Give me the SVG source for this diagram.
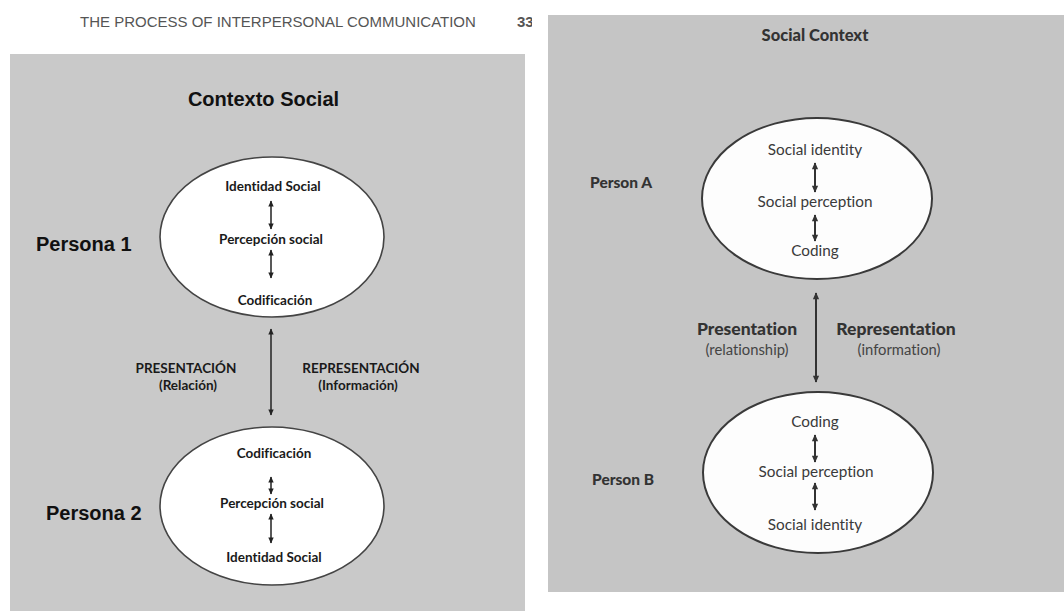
<svg xmlns="http://www.w3.org/2000/svg" width="1064" height="611" viewBox="0 0 1064 611">
<style>
text{font-variant-ligatures:none}
.hdr{font-family:"Liberation Sans",Arial,sans-serif;font-size:15px;fill:#555}
.ltitle{font-family:"Liberation Sans",Arial,sans-serif;font-weight:bold;font-size:20px;fill:#111}
.lperson{font-family:"Liberation Sans",Arial,sans-serif;font-weight:bold;font-size:20px;fill:#111}
.lin{font-family:Lato,"Open Sans",sans-serif;font-weight:bold;font-size:13.5px;fill:#1a1a1a;text-anchor:middle}
.rtitle{font-family:Lato,"Noto Sans",sans-serif;font-weight:900;font-size:16.5px;fill:#333;text-anchor:middle}
.rperson{font-family:Lato,"Noto Sans",sans-serif;font-weight:900;font-size:15.5px;fill:#333}
.rlab{font-family:Lato,"Noto Sans",sans-serif;font-weight:900;font-size:17.5px;fill:#333;text-anchor:middle}
.rsub{font-family:Lato,"Noto Sans",sans-serif;font-size:14.8px;fill:#444;text-anchor:middle}
.rin{font-family:Lato,"Noto Sans",sans-serif;font-size:15.3px;fill:#3a3a3a;text-anchor:middle}
.lell{fill:#fff;stroke:#444;stroke-width:1.6}
.rell{fill:#fdfdfd;stroke:#3a3a3a;stroke-width:2}
.arr{stroke:#222;stroke-width:1.5;fill:none;marker-start:url(#ah);marker-end:url(#ah)}
.arrR{stroke:#333;stroke-width:2;fill:none;marker-start:url(#ahR);marker-end:url(#ahR)}
</style>
<defs>
<marker id="ah" viewBox="0 0 10 10" refX="9" refY="5" markerWidth="7" markerHeight="6" markerUnits="userSpaceOnUse" orient="auto-start-reverse">
<path d="M0,0.5 L10,5 L0,9.5 z" fill="#222"/>
</marker>
<marker id="ahR" viewBox="0 0 10 10" refX="9" refY="5" markerWidth="8" markerHeight="7" markerUnits="userSpaceOnUse" orient="auto-start-reverse">
<path d="M0,0.5 L10,5 L0,9.5 z" fill="#333"/>
</marker>
</defs>
<rect x="0" y="0" width="1064" height="611" fill="#fff"/>

<g id="left-panel">
<text class="hdr" x="80" y="27">THE PROCESS OF INTERPERSONAL COMMUNICATION</text>
<text class="hdr" x="517" y="27" font-weight="bold" fill="#333">33</text>
<rect x="10" y="54" width="515" height="557" fill="#c9c9c9"/>
<text class="ltitle" x="263.5" y="106" text-anchor="middle">Contexto Social</text>
</g>

<g id="right-panel">
<rect x="532" y="0" width="16" height="611" fill="#fff"/>
<rect x="548" y="15" width="516" height="577" fill="#c5c5c5"/>
<text class="rtitle" x="815" y="41">Social Context</text>
</g>

<g id="persona1">
<text class="lperson" x="36" y="251">Persona 1</text>
<ellipse class="lell" cx="272" cy="237" rx="112" ry="80"/>
<text class="lin" x="273" y="191">Identidad Social</text>
<text class="lin" x="271" y="244">Percepción social</text>
<text class="lin" x="275" y="305">Codificación</text>
</g>

<g id="persona2">
<text class="lperson" x="46" y="520">Persona 2</text>
<ellipse class="lell" cx="272" cy="506" rx="112" ry="79"/>
<text class="lin" x="274" y="458">Codificación</text>
<text class="lin" x="272" y="508">Percepción social</text>
<text class="lin" x="274" y="562">Identidad Social</text>
</g>

<g id="left-labels">
<text class="lin" x="186" y="373">PRESENTACIÓN</text>
<text class="lin" x="188" y="390">(Relación)</text>
<text class="lin" x="361" y="373">REPRESENTACIÓN</text>
<text class="lin" x="358" y="390">(Información)</text>
</g>

<g id="personA">
<text class="rperson" x="590" y="188">Person A</text>
<ellipse class="rell" cx="817" cy="198.5" rx="115" ry="80.5"/>
<text class="rin" x="815" y="155">Social identity</text>
<text class="rin" x="815" y="207">Social perception</text>
<text class="rin" x="815" y="256">Coding</text>
</g>

<g id="personB">
<text class="rperson" x="592" y="485">Person B</text>
<ellipse class="rell" cx="818" cy="472.5" rx="115" ry="80.5"/>
<text class="rin" x="815" y="427">Coding</text>
<text class="rin" x="816" y="477">Social perception</text>
<text class="rin" x="815" y="530">Social identity</text>
</g>

<g id="right-labels">
<text class="rlab" x="747" y="335">Presentation</text>
<text class="rsub" x="747" y="355">(relationship)</text>
<text class="rlab" x="896" y="335">Representation</text>
<text class="rsub" x="899" y="355">(information)</text>
</g>

<g id="connectors">
<line class="arr" x1="271" y1="201" x2="271" y2="229"/>
<line class="arr" x1="271" y1="250" x2="271" y2="278"/>
<line class="arr" x1="271" y1="329" x2="271" y2="415"/>
<line class="arr" x1="271" y1="477" x2="271" y2="494"/>
<line class="arr" x1="271" y1="514" x2="271" y2="543"/>
<line class="arrR" x1="815" y1="163" x2="815" y2="192"/>
<line class="arrR" x1="815" y1="215" x2="815" y2="241"/>
<line class="arrR" x1="816" y1="293" x2="816" y2="382"/>
<line class="arrR" x1="815" y1="435" x2="815" y2="462"/>
<line class="arrR" x1="815" y1="483" x2="815" y2="510"/>
</g>
</svg>
